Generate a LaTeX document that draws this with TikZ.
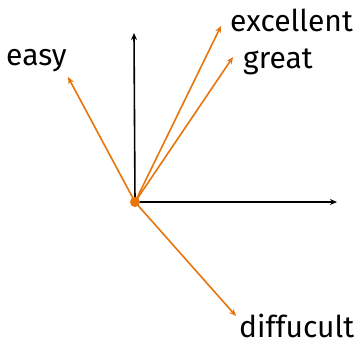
\documentclass[tikz,border=0pt]{standalone}
\usepackage{fontspec}
\setmainfont{Fira Sans}
\usetikzlibrary{arrows.meta}
\definecolor{vorange}{RGB}{232,116,12}
\tikzset{
  axis/.style={line width=1.6pt,-{Stealth[length=7pt,width=6pt]}},
  vec/.style={line width=1.6pt,vorange,-{Stealth[length=7pt,width=6pt]}},
  lbl/.style={inner sep=0pt,anchor=base west,font=\fontsize{30}{32}\selectfont}
}
\begin{document}
\begin{tikzpicture}[x=1pt,y=-1pt]
\useasboundingbox[fill=white] (0,0) rectangle (357,341);
\coordinate (o) at (135,202);
\coordinate (yt) at (134,33);
\coordinate (xt) at (337,202);
\coordinate (e1) at (68,77);
\coordinate (e2) at (221,26);
\coordinate (e3) at (233,57);
\coordinate (e4) at (236,316);
\draw[axis] (o) -- (yt);
\draw[axis] (o) -- (xt);
\draw[vec] (o) -- (e1);
\draw[vec] (o) -- (e2);
\draw[vec] (o) -- (e3);
\draw[vec] (o) -- (e4);
\fill[vorange] (o) circle (5);
\node[lbl] (easy) at (6,65) {easy};
\node[lbl] (exc) at (230,31) {excellent};
\node[lbl] (great) at (243,68) {great};
\node[lbl] (diff) at (239,337) {diffucult};
\end{tikzpicture}
\end{document}
